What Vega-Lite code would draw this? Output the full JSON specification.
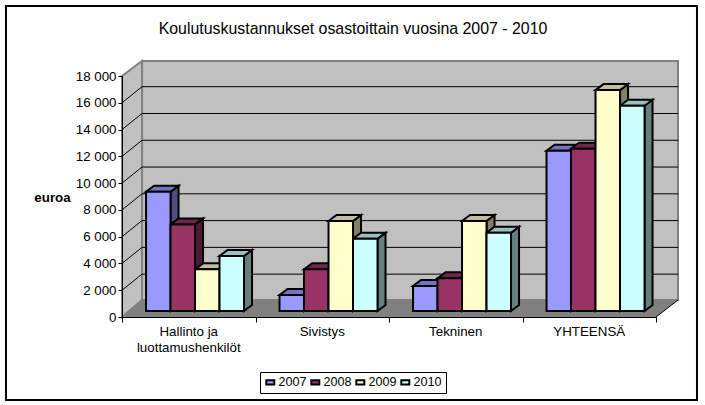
{"$schema":"https://vega.github.io/schema/vega-lite/v6.json","width":534,"height":241,"autosize":{"type":"none"},"padding":{"left":122,"top":76,"right":49,"bottom":88},"background":"white",
"config":{"view":{"stroke":null},"font":"Liberation Sans"},
"title":{"text":"Koulutuskustannukset osastoittain vuosina 2007 - 2010","font":"Liberation Sans","fontSize":15.9,"fontWeight":"normal","color":"black","anchor":"middle","dx":-36,"offset":-32},
"datasets":{"main":[
{"category":"Hallinto ja\nluottamushenkilöt","year":2007,"value":8910},{"category":"Hallinto ja\nluottamushenkilöt","year":2008,"value":6470},{"category":"Hallinto ja\nluottamushenkilöt","year":2009,"value":3110},{"category":"Hallinto ja\nluottamushenkilöt","year":2010,"value":4110},
{"category":"Sivistys","year":2007,"value":1200},{"category":"Sivistys","year":2008,"value":3110},{"category":"Sivistys","year":2009,"value":6720},{"category":"Sivistys","year":2010,"value":5400},
{"category":"Tekninen","year":2007,"value":1870},{"category":"Tekninen","year":2008,"value":2440},{"category":"Tekninen","year":2009,"value":6720},{"category":"Tekninen","year":2010,"value":5850},
{"category":"YHTEENSÄ","year":2007,"value":11970},{"category":"YHTEENSÄ","year":2008,"value":12120},{"category":"YHTEENSÄ","year":2009,"value":16500},{"category":"YHTEENSÄ","year":2010,"value":15330}
],"ticks":[{"t":2000},{"t":4000},{"t":6000},{"t":8000},{"t":10000},{"t":12000},{"t":14000},{"t":16000}]},
"encoding":{
"x":{"field":"x","type":"quantitative","stack":null,"title":null,"scale":{"domain":[0,4],"nice":false,"zero":false},"axis":{"values":[0,1,2,3,4],"labels":false,"grid":false,"tickSize":5,"tickColor":"black","domainColor":"black","zindex":1,"title":null}},
"y":{"field":"y","type":"quantitative","stack":null,"title":"euroa","scale":{"domain":[0,18000],"nice":false,"zero":false},"axis":{"values":[0,2000,4000,6000,8000,10000,12000,14000,16000,18000],"grid":false,"tickSize":4,"tickColor":"black","domainColor":"black","zindex":1,"labelFontSize":13.33,"labelColor":"black","labelPadding":2,"labelFont":"Liberation Sans","labelExpr":"replace(format(datum.value,','),',',' ')","title":"euroa","titleAngle":0,"titleFontWeight":"bold","titleFontSize":13.33,"titleColor":"black","titleX":-70,"titleY":121,"titleAlign":"center","titleBaseline":"middle"}}
},
"layer":[
{"data":{"values":[{"part":"chart border"}]},"transform":[{"calculate":"-0.869","as":"x"},{"calculate":"4.307","as":"x2"},{"calculate":"-6199","as":"y"},{"calculate":"23228","as":"y2"}],"mark":{"type":"rect","fill":"white","stroke":"black","strokeWidth":2,"clip":false},"encoding":{"x2":{"field":"x2"},"y2":{"field":"y2"}}},
{"data":{"values":[{"part":"back wall"}]},"transform":[{"calculate":"0.15","as":"x"},{"calculate":"4.165","as":"x2"},{"calculate":"1270","as":"y"},{"calculate":"19120","as":"y2"}],"mark":{"type":"rect","fill":"#C0C0C0","stroke":"#808080","strokeWidth":2},"encoding":{"x2":{"field":"x2"},"y2":{"field":"y2"}}},
{"data":{"values":[{"k":0},{"k":1}]},"transform":[{"calculate":"datum.k*0.15","as":"x"},{"calculate":"datum.k*1270","as":"y"},{"calculate":"18000+datum.k*1120","as":"y2"}],"mark":{"type":"area","fill":"#C0C0C0","stroke":"#808080","strokeWidth":2},"encoding":{"y2":{"field":"y2"}}},
{"data":{"values":[{"k":0},{"k":1}]},"transform":[{"calculate":"datum.k*0.15","as":"x"},{"calculate":"4+datum.k*0.165","as":"x2"},{"calculate":"datum.k*1270","as":"y"}],"mark":{"type":"area","orient":"horizontal","fill":"#808080"},"encoding":{"x2":{"field":"x2"}}},
{"data":{"name":"ticks"},"transform":[{"calculate":"0.15","as":"x"},{"calculate":"4.165","as":"x2"},{"calculate":"datum.t+1200","as":"y"}],"mark":{"type":"rule","color":"black","strokeWidth":1},"encoding":{"x2":{"field":"x2"}}},
{"data":{"name":"ticks"},"transform":[{"calculate":"0","as":"x"},{"calculate":"0.15","as":"x2"},{"calculate":"datum.t","as":"y"},{"calculate":"datum.t+1200","as":"y2"}],"mark":{"type":"rule","color":"black","strokeWidth":1},"encoding":{"x2":{"field":"x2"},"y2":{"field":"y2"}}},
{"data":{"values":[{"part":"floor edge"}]},"transform":[{"calculate":"4","as":"x"},{"calculate":"4.165","as":"x2"},{"calculate":"0","as":"y"},{"calculate":"1270","as":"y2"}],"mark":{"type":"rule","color":"black","strokeWidth":1},"encoding":{"x2":{"field":"x2"},"y2":{"field":"y2"}}},
{"data":{"name":"main"},"transform":[{"calculate":"[0,1]","as":"k"},{"flatten":["k"]},{"calculate":"indexof(['Hallinto ja\\nluottamushenkilöt','Sivistys','Tekninen','YHTEENSÄ'],datum.category)+0.18+(datum.year-2006)*0.1835+datum.k*0.06","as":"x"},{"calculate":"448+datum.k*448","as":"y"},{"calculate":"448+datum.value+datum.k*448","as":"y2"}],"mark":{"type":"area","stroke":"black","strokeWidth":2,"strokeJoin":"miter"},"encoding":{"y2":{"field":"y2"},"detail":[{"field":"category"},{"field":"year"}],"fill":{"field":"year","type":"nominal","legend":null,"scale":{"domain":[2007,2008,2009,2010],"range":["#4D4D80","#4D1A33","#808066","#668080"]}}}},
{"data":{"name":"main"},"transform":[{"calculate":"[0,1]","as":"k"},{"flatten":["k"]},{"calculate":"indexof(['Hallinto ja\\nluottamushenkilöt','Sivistys','Tekninen','YHTEENSÄ'],datum.category)+0.18+(datum.year-2007)*0.1835+datum.k*0.06","as":"x"},{"calculate":"datum.x+0.1835","as":"x2"},{"calculate":"448+datum.value+datum.k*448","as":"y"}],"mark":{"type":"area","orient":"horizontal","stroke":"black","strokeWidth":2,"strokeJoin":"miter"},"encoding":{"x2":{"field":"x2"},"detail":[{"field":"category"},{"field":"year"}],"fill":{"field":"year","type":"nominal","legend":null,"scale":{"domain":[2007,2008,2009,2010],"range":["#7373BF","#73264D","#BFBF99","#99BFBF"]}}}},
{"data":{"name":"main"},"transform":[{"calculate":"indexof(['Hallinto ja\\nluottamushenkilöt','Sivistys','Tekninen','YHTEENSÄ'],datum.category)+0.18+(datum.year-2007)*0.1835","as":"x"},{"calculate":"datum.x+0.1835","as":"x2"},{"calculate":"448","as":"y"},{"calculate":"448+datum.value","as":"y2"}],"mark":{"type":"rect","stroke":"black","strokeWidth":2},"encoding":{"x2":{"field":"x2"},"y2":{"field":"y2"},"fill":{"field":"year","type":"nominal","scale":{"domain":[2007,2008,2009,2010],"range":["#9999FF","#993366","#FFFFCC","#CCFFFF"]},"legend":{"orient":"none","legendX":138,"legendY":296,"direction":"horizontal","columns":4,"title":null,"padding":4,"strokeColor":"black","fillColor":"white","labelFont":"Liberation Sans","labelFontSize":12.6,"labelColor":"black","labelOffset":2,"columnPadding":0,"symbolType":"M-1,-0.55H1V0.55H-1Z","symbolSize":64,"symbolStrokeColor":"black","symbolStrokeWidth":2,"symbolOpacity":1}}}},
{"data":{"name":"main"},"transform":[{"filter":"datum.year==2007"},{"calculate":"indexof(['Hallinto ja\\nluottamushenkilöt','Sivistys','Tekninen','YHTEENSÄ'],datum.category)+0.5","as":"x"},{"calculate":"0","as":"y"}],"mark":{"type":"text","lineBreak":"\n","baseline":"top","align":"center","dy":8,"fontSize":13.33,"lineHeight":16,"font":"Liberation Sans","color":"black"},"encoding":{"text":{"field":"category"}}}
],
"resolve":{"scale":{"fill":"independent"}}}
